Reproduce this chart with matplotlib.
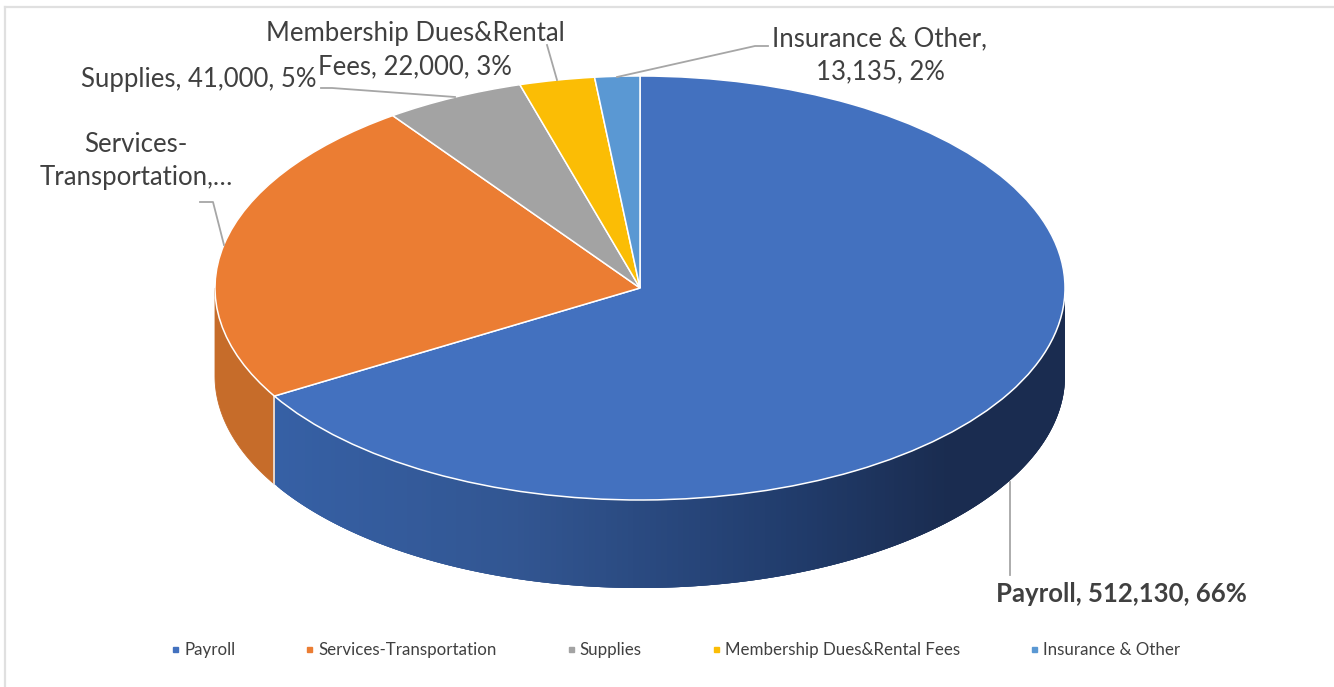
import numpy as np
import matplotlib
matplotlib.use("Agg")
import matplotlib.pyplot as plt
from matplotlib.lines import Line2D
from matplotlib.patches import Polygon

W, H = 1334, 687

categories = ["Payroll", "Services-Transportation", "Supplies",
              "Membership Dues&Rental Fees", "Insurance & Other"]
values = [512130, 182000, 41000, 22000, 13135]
percents = [66, 24, 5, 3, 2]
colors = ["#4371BF", "#EB7D33", "#A3A3A3", "#FBBD05", "#5A98D3"]

plt.rcParams["font.family"] = ["Lato", "DejaVu Sans"]
TEXT = "#404040"
LEADER = "#A6A6A6"

# pie ellipse in pixels
cx, cy, rx, ry = 640, 288, 425, 212
depth = 88 / ry


def fx(x):
    return x / W


def fy(y):
    return 1 - y / H


def wall_color(t):
    # shading of the payroll wall, t is 0 at left edge and 1 at right
    stops = np.array([[54, 96, 165], [50, 86, 146], [33, 60, 108], [26, 44, 80], [26, 44, 80]]) / 255
    pos = [0, 0.3, 0.65, 0.85, 1]
    return [np.interp(t, pos, stops[:, i]) for i in range(3)]


fig = plt.figure(figsize=(W / 100, H / 100), dpi=100, facecolor="white")
ax = fig.add_axes([fx(cx - rx), fy(cy + ry), 2 * rx / W, 2 * ry / H])

wedges, _ = ax.pie(values, colors=colors, startangle=90, counterclock=False,
                   wedgeprops={"edgecolor": "white", "linewidth": 1.1, "zorder": 5})
ax.set_aspect("auto")
ax.set_xlim(-1, 1)
ax.set_ylim(-1, 1)
for w in wedges:
    w.set_clip_on(False)

# side wall, payroll from where its slice ends round to the right edge.
# strips overlap the next one and are painted left to right so no seams show
payroll_end = 360 * values[0] / sum(values)
angles = np.radians(np.linspace(payroll_end, 90, 200))
xs, ys = np.sin(angles), np.cos(angles)
x_left = xs.min()
for i in range(len(angles) - 1):
    j = min(i + 3, len(angles) - 1)
    c = wall_color((xs[i] - x_left) / (1 - x_left))
    ax.add_patch(Polygon([(xs[k], ys[k]) for k in range(i, j + 1)]
                         + [(xs[k], ys[k] - depth) for k in range(j, i - 1, -1)],
                         closed=True, facecolor=c, edgecolor="none", linewidth=0,
                         clip_on=False, zorder=2))

angles = np.radians(np.linspace(payroll_end, 270, 40))
xs, ys = np.sin(angles), np.cos(angles)
pts = list(zip(xs, ys)) + list(zip(xs[::-1], ys[::-1] - depth))
ax.add_patch(Polygon(pts, closed=True, facecolor="#C66C2A", edgecolor="#C66C2A",
                     linewidth=0.6, clip_on=False, zorder=2))

# white seam between the two walls
a = np.radians(payroll_end)
ax.plot([np.sin(a)] * 2, [np.cos(a), np.cos(a) - depth], color="#F2F2F2", lw=1.1,
        clip_on=False, zorder=3)

# chart frame (only top and left are visible in the crop)
fig.add_artist(Line2D([fx(5), fx(1334)], [fy(7), fy(7)], color="#E0E0E0", lw=1.6))
fig.add_artist(Line2D([fx(5), fx(5)], [fy(7), fy(687)], color="#E0E0E0", lw=1.6))

# leader lines
leaders = [
    ([1010, 1010], [482, 575]),
    ([224, 213, 200], [245, 202, 202]),
    ([321, 332, 455], [88, 88, 97]),
    ([547, 557], [45, 80]),
    ([768, 755, 617], [46, 46, 77]),
]
for lx, ly in leaders:
    fig.add_artist(Line2D([fx(v) for v in lx], [fy(v) for v in ly], color=LEADER, lw=1.3, zorder=6))

# data labels
FS = 18.5
SPACING = 1.4
labels = [f"{c}, {v:,}, {p}%" for c, v, p in zip(categories, values, percents)]
fig.text(fx(1121), fy(594), labels[0], fontsize=FS, fontweight="bold", color=TEXT,
         ha="center", va="center")
fig.text(fx(136), fy(161), "Services-\nTransportation,…", fontsize=FS, color=TEXT,
         ha="center", va="center", linespacing=SPACING)
fig.text(fx(199), fy(80), labels[2], fontsize=FS, color=TEXT, ha="center", va="center")
fig.text(fx(415), fy(50), "Membership Dues&Rental\nFees, 22,000, 3%", fontsize=FS, color=TEXT,
         ha="center", va="center", linespacing=SPACING)
fig.text(fx(880), fy(55), "Insurance & Other,\n13,135, 2%", fontsize=FS, color=TEXT,
         ha="center", va="center", linespacing=SPACING)

handles = [Line2D([], [], linestyle="none", marker="s", markersize=3.6, color=c) for c in colors]
fig.legend(handles, categories, loc="center", bbox_to_anchor=(fx(675), fy(650)), ncols=5,
           frameon=False, fontsize=12.2, labelcolor=TEXT, handlelength=0.6, handletextpad=0.25,
           columnspacing=4.05, borderpad=0)

fig.savefig("out.png", dpi=100)
